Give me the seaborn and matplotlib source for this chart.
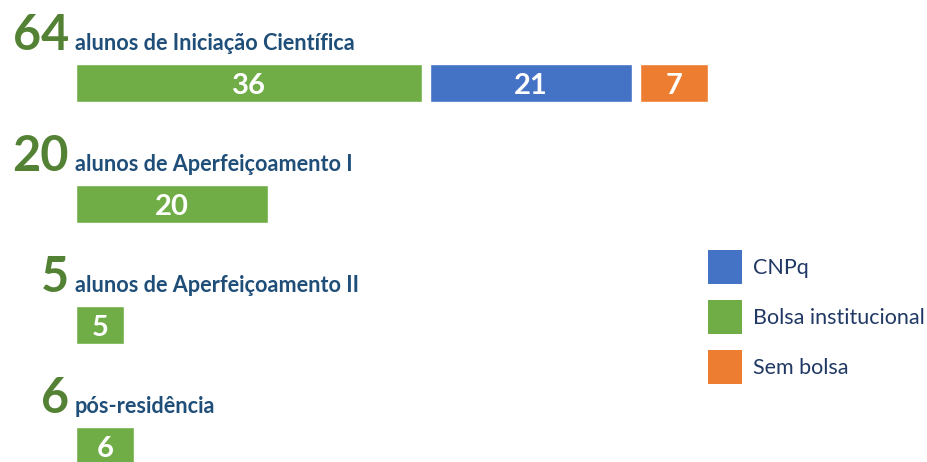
import matplotlib
matplotlib.use("Agg")
import matplotlib.pyplot as plt
from matplotlib.patches import Patch
import pandas as pd
import seaborn as sns

# Programme groups, top to bottom
groups = ["Iniciação Científica", "Aperfeiçoamento I", "Aperfeiçoamento II", "pós-residência"]
titles = ["alunos de Iniciação Científica", "alunos de Aperfeiçoamento I",
          "alunos de Aperfeiçoamento II", "pós-residência"]

# Students per funding source in each group
segments = ["Bolsa institucional", "CNPq", "Sem bolsa"]
bolsa_institucional = [36, 20, 5, 6]
cnpq = [21, 0, 0, 0]
sem_bolsa = [7, 0, 0, 0]

legend_order = ["CNPq", "Bolsa institucional", "Sem bolsa"]
colors = {"CNPq": "#4472C4", "Bolsa institucional": "#70AD47", "Sem bolsa": "#ED7D31"}

GAP = 0.9          # white space between stacked segments (data units)
BAR_H = 0.31

sns.set_theme(style="white")
plt.rcParams["font.family"] = ["Lato", "DejaVu Sans"]

# Long table with the start of each stacked segment
values = {"Bolsa institucional": bolsa_institucional, "CNPq": cnpq, "Sem bolsa": sem_bolsa}
rows = []
for i, g in enumerate(groups):
    start = 0.0
    for seg in segments:
        v = values[seg][i]
        rows.append({"group": g, "segment": seg, "value": v, "start": start})
        if v > 0:
            start += v + GAP
df = pd.DataFrame(rows)

fig = plt.figure(figsize=(9.27, 4.62), dpi=100)
ax = fig.add_axes([0, 0, 1, 1])

for seg in segments:
    sub = df[df["segment"] == seg]
    sns.barplot(data=sub, x="value", y="group", order=groups, orient="h",
                color=colors[seg], saturation=1, width=BAR_H, errorbar=None,
                left=sub["start"].to_numpy(), ax=ax)

# Value labels inside the segments
for i, g in enumerate(groups):
    for _, r in df[(df["group"] == g) & (df["value"] > 0)].iterrows():
        ax.text(r["start"] + r["value"] / 2, i, str(r["value"]), ha="center",
                va="center_baseline", color="white", fontsize=21, fontweight="bold")

# Group headings: big total followed by the description
for i, g in enumerate(groups):
    total = int(df.loc[df["group"] == g, "value"].sum())
    ax.text(-0.75, i - 0.27, str(total), ha="right", va="baseline",
            color="#548235", fontsize=35, fontweight="bold")
    ax.text(-0.1, i - 0.27, titles[i], ha="left", va="baseline",
            color="#1F4E79", fontsize=15.6, fontweight="bold")

ax.set_xlim(-7.917, 88.65)
ax.set_ylim(3.132, -0.686)
ax.axis("off")

fs = 15.5
fs_px = fs * 100 / 72
hh = (34 - 0.245 * fs_px) / (0.65 * fs_px)
handles = [Patch(facecolor=colors[s], edgecolor="none", label=s) for s in legend_order]
fig.legend(handles=handles, loc="upper left", bbox_to_anchor=(708 / 927, 1 - 250 / 462),
           frameon=False, borderpad=0, borderaxespad=0, fontsize=fs,
           handlelength=34 / fs_px, handleheight=hh,
           handletextpad=11 / fs_px, labelspacing=16 / fs_px, labelcolor="#203864")

fig.savefig("out.png", dpi=100)
